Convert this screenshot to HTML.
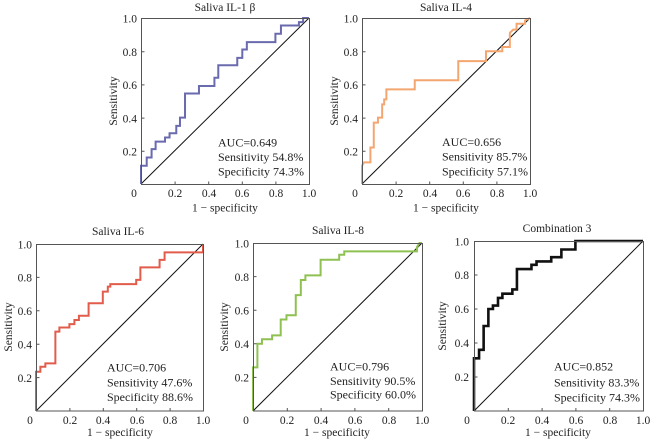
<!DOCTYPE html>
<html><head><meta charset="utf-8"><style>
html,body{margin:0;padding:0;background:#fff;}
svg{display:block;}
text{font-family:"Liberation Serif","DejaVu Serif",serif;fill:#222;}
.t{font-size:11.5px;}
.tk{font-size:11.5px;}
.an{font-size:12px;}
.fr{fill:none;stroke:#555;stroke-width:1;}
.dg{stroke:#111;stroke-width:1;}
.cv{fill:none;stroke-linejoin:miter;vector-effect:non-scaling-stroke;}
.tick{stroke:#555;stroke-width:1;}
</style></head><body>
<svg width="650" height="443" viewBox="0 0 650 443" xmlns="http://www.w3.org/2000/svg">
<rect width="650" height="443" fill="#fff"/>

<!-- Panel 1 -->
<g>
<text class="t" x="225" y="11" text-anchor="middle">Saliva IL-1 β</text>
<g transform="translate(141,184) scale(168,-166)">
<line class="dg" x1="0" y1="0" x2="1" y2="1" vector-effect="non-scaling-stroke"/>
<path class="cv" stroke="#6a6aae" stroke-width="2" d="M0,0 V0.11 H0.034 V0.16 H0.063 V0.21 H0.087 V0.255 H0.143 V0.28 H0.17 V0.306 H0.21 V0.35 H0.232 V0.4 H0.262 V0.545 H0.345 V0.59 H0.437 V0.64 H0.46 V0.715 H0.573 V0.76 H0.603 V0.81 H0.63 V0.855 H0.8 V0.905 H0.833 V0.955 H0.94 V0.975 H0.965 V1 H1"/>
</g>
<rect class="fr" x="141.5" y="18.5" width="168" height="166"/>
<path class="tick" d="M141.5,151.3h3M141.5,118.1h3M141.5,84.9h3M141.5,51.7h3M175.1,184.5v-3M208.7,184.5v-3M242.3,184.5v-3M275.9,184.5v-3"/>
<g class="tk" text-anchor="end">
<text x="137" y="155.5">0.2</text><text x="137" y="122.3">0.4</text><text x="137" y="89.1">0.6</text><text x="137" y="55.9">0.8</text><text x="137" y="22.7">1.0</text>
</g>
<g class="tk" text-anchor="middle">
<text x="134" y="197">0</text><text x="175" y="197">0.2</text><text x="209" y="197">0.4</text><text x="242" y="197">0.6</text><text x="276" y="197">0.8</text><text x="309" y="197">1.0</text>
</g>
<text class="t" x="225" y="211.5" text-anchor="middle">1 − specificity</text>
<text class="t" transform="translate(117,101) rotate(-90)" text-anchor="middle">Sensitivity</text>
<g class="an"><text x="218" y="146.5">AUC=0.649</text><text x="218" y="161">Sensitivity 54.8%</text><text x="218" y="175.7">Specificity 74.3%</text></g>
</g>

<!-- Panel 2 -->
<g>
<text class="t" x="446" y="11" text-anchor="middle">Saliva IL-4</text>
<g transform="translate(362,184) scale(168,-166)">
<line class="dg" x1="0" y1="0" x2="1" y2="1" vector-effect="non-scaling-stroke"/>
<path class="cv" stroke="#f4a671" stroke-width="2" d="M0,0 V0.11 L0.012,0.13 H0.05 V0.22 H0.07 V0.37 H0.095 V0.4 H0.12 V0.48 H0.132 V0.51 H0.145 V0.57 H0.314 V0.625 H0.573 V0.74 H0.738 V0.8 H0.835 V0.825 H0.88 V0.91 L0.9,0.93 H0.92 V0.965 H0.97 V0.985 L1,1"/>
</g>
<rect class="fr" x="362.5" y="18.5" width="168" height="166"/>
<path class="tick" d="M362.5,151.3h3M362.5,118.1h3M362.5,84.9h3M362.5,51.7h3M396.1,184.5v-3M429.7,184.5v-3M463.3,184.5v-3M496.9,184.5v-3"/>
<g class="tk" text-anchor="end">
<text x="358" y="155.5">0.2</text><text x="358" y="122.3">0.4</text><text x="358" y="89.1">0.6</text><text x="358" y="55.9">0.8</text><text x="358" y="22.7">1.0</text>
</g>
<g class="tk" text-anchor="middle">
<text x="355" y="197">0</text><text x="396" y="197">0.2</text><text x="430" y="197">0.4</text><text x="463" y="197">0.6</text><text x="497" y="197">0.8</text><text x="530" y="197">1.0</text>
</g>
<text class="t" x="446" y="211.5" text-anchor="middle">1 − specificity</text>
<text class="t" transform="translate(338,101) rotate(-90)" text-anchor="middle">Sensitivity</text>
<g class="an"><text x="442" y="146">AUC=0.656</text><text x="442" y="160.5">Sensitivity 85.7%</text><text x="442" y="175.5">Specificity 57.1%</text></g>
</g>

<!-- Panel 3 -->
<g>
<text class="t" x="118" y="235" text-anchor="middle">Saliva IL-6</text>
<g transform="translate(36,411) scale(167,-167)">
<line class="dg" x1="0" y1="0" x2="1" y2="1" vector-effect="non-scaling-stroke"/>
<path class="cv" stroke="#e25c4c" stroke-width="2" d="M0,0 V0.235 H0.026 V0.265 H0.056 V0.285 H0.116 V0.475 H0.14 V0.5 H0.2 V0.52 H0.23 V0.545 H0.257 V0.57 H0.315 V0.645 H0.4 V0.715 H0.43 V0.745 H0.445 V0.76 H0.6 V0.785 H0.625 V0.86 H0.74 V0.905 H0.77 V0.95 H1 V1"/>
</g>
<rect class="fr" x="36.5" y="244.5" width="167" height="166.5"/>
<path class="tick" d="M36.5,377.6h3M36.5,344.2h3M36.5,310.8h3M36.5,277.4h3M69.9,411v-3M103.3,411v-3M136.7,411v-3M170.1,411v-3"/>
<g class="tk" text-anchor="end">
<text x="32" y="381.8">0.2</text><text x="32" y="348.4">0.4</text><text x="32" y="315">0.6</text><text x="32" y="281.6">0.8</text><text x="32" y="248.5">1.0</text>
</g>
<g class="tk" text-anchor="middle">
<text x="30" y="424">0</text><text x="70" y="424">0.2</text><text x="103" y="424">0.4</text><text x="137" y="424">0.6</text><text x="170" y="424">0.8</text><text x="203" y="424">1.0</text>
</g>
<text class="t" x="120" y="436" text-anchor="middle">1 − specificity</text>
<text class="t" transform="translate(12,327) rotate(-90)" text-anchor="middle">Sensitivity</text>
<g class="an"><text x="107" y="371.7">AUC=0.706</text><text x="107" y="386.7">Sensitivity 47.6%</text><text x="107" y="401">Specificity 88.6%</text></g>
</g>

<!-- Panel 4 -->
<g>
<text class="t" x="338" y="234" text-anchor="middle">Saliva IL-8</text>
<g transform="translate(253,411) scale(169,-168)">
<line class="dg" x1="0" y1="0" x2="1" y2="1" vector-effect="non-scaling-stroke"/>
<path class="cv" stroke="#8fc152" stroke-width="2" d="M0,0 V0.26 H0.026 V0.4 H0.053 V0.427 H0.113 V0.45 H0.164 V0.545 H0.198 V0.57 H0.253 V0.69 H0.283 V0.78 H0.31 V0.807 H0.4 V0.9 H0.51 V0.93 H0.54 V0.95 H0.97 V0.975 L0.985,1 H1"/>
</g>
<rect class="fr" x="253.5" y="243.5" width="169" height="167.5"/>
<path class="tick" d="M253.5,377.4h3M253.5,343.8h3M253.5,310.2h3M253.5,276.6h3M287.3,411v-3M321.1,411v-3M354.9,411v-3M388.7,411v-3"/>
<g class="tk" text-anchor="end">
<text x="249" y="381.6">0.2</text><text x="249" y="348">0.4</text><text x="249" y="314.4">0.6</text><text x="249" y="280.8">0.8</text><text x="249" y="247.5">1.0</text>
</g>
<g class="tk" text-anchor="middle">
<text x="246" y="424">0</text><text x="287" y="424">0.2</text><text x="321" y="424">0.4</text><text x="355" y="424">0.6</text><text x="389" y="424">0.8</text><text x="422" y="424">1.0</text>
</g>
<text class="t" x="337" y="436" text-anchor="middle">1 − specificity</text>
<text class="t" transform="translate(228,327) rotate(-90)" text-anchor="middle">Sensitivity</text>
<g class="an"><text x="330" y="370.7">AUC=0.796</text><text x="330" y="385">Sensitivity 90.5%</text><text x="330" y="398.5">Specificity 60.0%</text></g>
</g>

<!-- Panel 5 -->
<g>
<text class="t" x="557" y="232" text-anchor="middle">Combination 3</text>
<g transform="translate(474,411) scale(169,-170)">
<line class="dg" x1="0" y1="0" x2="1" y2="1" vector-effect="non-scaling-stroke"/>
<path class="cv" stroke="#111" stroke-width="2.6" d="M0,0 V0.31 H0.03 V0.36 H0.057 V0.5 H0.085 V0.6 H0.112 V0.62 H0.142 V0.665 H0.168 V0.69 H0.227 V0.715 H0.254 V0.835 H0.34 V0.86 H0.37 V0.88 H0.457 V0.905 H0.517 V0.95 H0.6 V1 H1"/>
</g>
<rect class="fr" x="474.5" y="241.5" width="169" height="169.5"/>
<path class="tick" d="M474.5,377h3M474.5,343h3M474.5,309h3M474.5,275h3M508.3,411v-3M542.1,411v-3M575.9,411v-3M609.7,411v-3"/>
<g class="tk" text-anchor="end">
<text x="469" y="381.2">0.2</text><text x="469" y="347.2">0.4</text><text x="469" y="313.2">0.6</text><text x="469" y="279.2">0.8</text><text x="469" y="245.5">1.0</text>
</g>
<g class="tk" text-anchor="middle">
<text x="467" y="424">0</text><text x="508" y="424">0.2</text><text x="542" y="424">0.4</text><text x="576" y="424">0.6</text><text x="610" y="424">0.8</text><text x="643" y="424">1.0</text>
</g>
<text class="t" x="558" y="436" text-anchor="middle">1 − specificity</text>
<text class="t" transform="translate(446,326) rotate(-90)" text-anchor="middle">Sensitivity</text>
<g class="an"><text x="554" y="370.7">AUC=0.852</text><text x="554" y="386.7">Sensitivity 83.3%</text><text x="554" y="401.7">Specificity 74.3%</text></g>
</g>
</svg>
</body></html>
